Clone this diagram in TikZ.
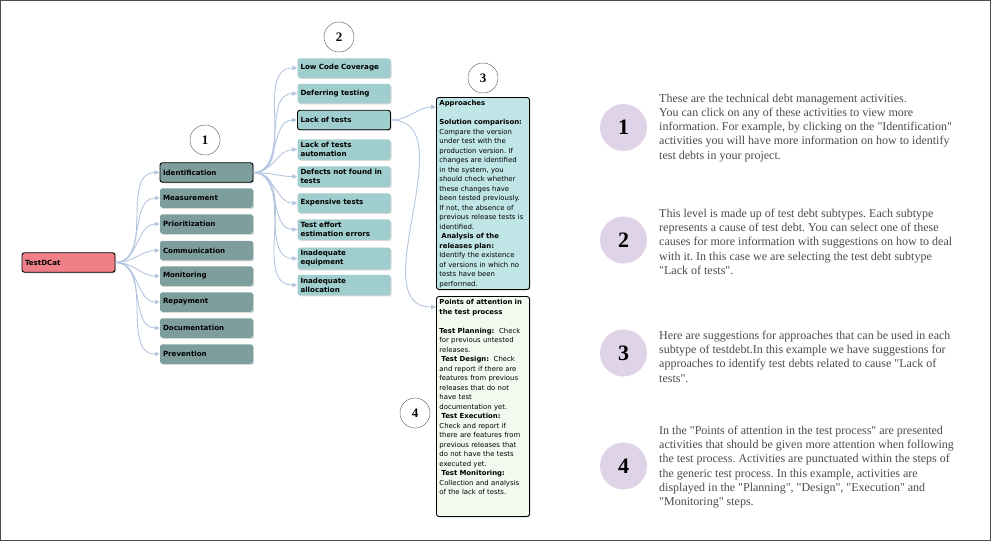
\documentclass[tikz,border=0pt]{standalone}
\usepackage{fontspec}
\setmainfont{Liberation Serif}[Ligatures=TeXOff]
\newfontfamily\boxfont{DejaVu Sans}
\usetikzlibrary{arrows.meta, shadows}
\definecolor{rootpink}{HTML}{EF8087}
\definecolor{actgray}{HTML}{7E9E9E}
\definecolor{subteal}{HTML}{A0CDCD}
\definecolor{apprcyan}{HTML}{C0E5E7}
\definecolor{pointgreen}{HTML}{F2FAF0}
\definecolor{linkblue}{HTML}{B3C5DF}
\definecolor{badgelilac}{HTML}{DFD3E8}
\definecolor{ringpurple}{HTML}{6A4A72}
\definecolor{notegray}{HTML}{4A4A4A}
\frenchspacing
\tikzset{
    box/.style = {rectangle, rounded corners=2.5pt, text width=87pt, align=left,
                  inner xsep=3pt, inner ysep=3pt, minimum height=19.5pt,
                  font=\boxfont\fontsize{7.1}{9}\selectfont\bfseries,
                  drop shadow={shadow xshift=1.2pt, shadow yshift=-1.2pt, opacity=0.3}},
    root/.style = {box, fill=rootpink, draw=black, line width=0.9pt},
    activity/.style = {box, fill=actgray},
    subtype/.style = {box, fill=subteal},
    chosen/.style = {draw=black, line width=0.9pt},
    panel/.style = {box, draw=black, line width=0.9pt, anchor=north west,
                    font=\boxfont\fontsize{6.9}{9.5}\selectfont},
    link/.style = {draw=linkblue, line width=0.9pt, out=0, in=180,
                   -{Triangle[length=5pt, width=4.5pt]}},
    ring/.style = {circle, draw=ringpurple, fill=white, minimum size=30pt,
                   inner sep=0pt, font=\fontsize{13}{13}\selectfont\bfseries},
    badge/.style = {circle, fill=badgelilac, minimum size=47pt, inner sep=0pt,
                    font=\fontsize{22}{22}\selectfont\bfseries},
    note/.style = {anchor=north west, align=left, inner sep=0pt, text=notegray,
                   font=\fontsize{12}{14.3}\selectfont}
}
\begin{document}
\begin{tikzpicture}[x=1pt, y=-1pt]
    \useasboundingbox (0,0) rectangle (991,541);
    \draw[gray!60!black, line width=0.8pt] (0.5,0.5) rectangle (990.5,540.5);

    % root and management activities
    \node[root] (root) at (68.5,262.5) {TestDCat};
    \node[activity, chosen] (ident) at (206.5,172.5) {Identification};
    \node[activity] (meas) at (206.5,198) {Measurement};
    \node[activity] (prio) at (206.5,224) {Prioritization};
    \node[activity] (comm) at (206.5,250.5) {Communication};
    \node[activity] (moni) at (206.5,276) {Monitoring};
    \node[activity] (repay) at (206.5,302) {Repayment};
    \node[activity] (docu) at (206.5,328) {Documentation};
    \node[activity] (prev) at (206.5,354) {Prevention};

    % test debt subtypes
    \node[subtype] (lcc) at (344,68) {Low Code Coverage};
    \node[subtype] (defer) at (344,93.5) {Deferring testing};
    \node[subtype, chosen] (lack) at (344,120) {Lack of tests};
    \node[subtype] (auto) at (344,149.5) {Lack of tests\\automation};
    \node[subtype] (defect) at (344,176.5) {Defects not found in\\tests};
    \node[subtype] (expens) at (344,203) {Expensive tests};
    \node[subtype] (effort) at (344,229.5) {Test effort\\estimation errors};
    \node[subtype] (equip) at (344,258.5) {Inadequate\\equipment};
    \node[subtype] (alloc) at (344,285) {Inadequate\\allocation};

    % detail panels
    \node[panel, fill=apprcyan] (appr) at (436,97) {\parbox[t][186pt][t]{87pt}{%
        \textbf{Approaches}\\[9.5pt]
        \textbf{Solution comparison:}\\
        Compare the version\\
        under test with the\\
        production version. If\\
        changes are identified\\
        in the system, you\\
        should check whether\\
        these changes have\\
        been tested previously.\\
        If not, the absence of\\
        previous release tests is\\
        identified.\\
        \hspace*{2pt}\textbf{Analysis of the}\\
        \textbf{releases plan:}\\
        Identify the existence\\
        of versions in which no\\
        tests have been\\
        performed.}};
    \node[panel, fill=pointgreen] (points) at (436,296) {\parbox[t][214pt][t]{87pt}{%
        \textbf{Points of attention in}\\
        \textbf{the test process}\\[9.5pt]
        \textbf{Test Planning:}\ \ Check\\
        for previous untested\\
        releases.\\
        \hspace*{2pt}\textbf{Test Design:}\ \ Check\\
        and report if there are\\
        features from previous\\
        releases that do not\\
        have test\\
        documentation yet.\\
        \hspace*{2pt}\textbf{Test Execution:}\\
        Check and report if\\
        there are features from\\
        previous releases that\\
        do not have the tests\\
        executed yet.\\
        \hspace*{2pt}\textbf{Test Monitoring:}\\
        Collection and analysis\\
        of the lack of tests.}};

    \coordinate (apprin) at (436,107);
    \coordinate (pointin) at (436,307);

    \foreach \n in {ident,meas,prio,comm,moni,repay,docu,prev}
        \path (root.east) edge[link] (\n.west);
    \foreach \n in {lcc,defer,lack,auto,defect,expens,effort,equip,alloc}
        \path (ident.east) edge[link] (\n.west);
    \path (lack.east) edge[link] (apprin);
    \path (lack.east) edge[link] (pointin);

    % numbered markers
    \node[ring] (r1) at (205,140) {1};
    \node[ring] (r2) at (339,37) {2};
    \node[ring] (r3) at (483,78) {3};
    \node[ring] (r4) at (415,413) {4};

    % explanations
    \node[badge] (b1) at (623.5,127.5) {1};
    \node[badge] (b2) at (623.5,240) {2};
    \node[badge] (b3) at (623.5,353) {3};
    \node[badge] (b4) at (623.5,466) {4};

    \node[note] (n1) at (659,93.5) {These are the technical debt management activities.\\
        You can click on any of these activities to view more\\
        information. For example, by clicking on the "Identification"\\
        activities you will have more information on how to identify\\
        test debts in your project.};
    \node[note] (n2) at (659,208.5) {This level is made up of test debt subtypes. Each subtype\\
        represents a cause of test debt. You can select one of these\\
        causes for more information with suggestions on how to deal\\
        with it. In this case we are selecting the test debt subtype\\
        "Lack of tests".};
    \node[note] (n3) at (659,330.5) {Here are suggestions for approaches that can be used in each\\
        subtype of testdebt.In this example we have suggestions for\\
        approaches to identify test debts related to cause "Lack of\\
        tests".};
    \node[note] (n4) at (659,425.5) {In the "Points of attention in the test process" are presented\\
        activities that should be given more attention when following\\
        the test process. Activities are punctuated within the steps of\\
        the generic test process. In this example, activities are\\
        displayed in the "Planning", "Design", "Execution" and\\
        "Monitoring" steps.};
\end{tikzpicture}
\end{document}
